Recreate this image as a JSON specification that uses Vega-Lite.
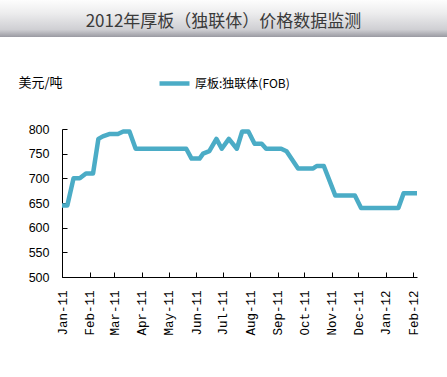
{
  "$schema": "https://vega.github.io/schema/vega-lite/v6.json",
  "padding": 0,
  "background": "white",
  "spacing": 29,
  "resolve": {"legend": {"color": "independent"}},
  "config": {"view": {"stroke": null}},
  "vconcat": [
    {
      "width": 385,
      "height": 37,
      "data": {"values": [{"title": "2012年厚板（独联体）价格数据监测"}]},
      "layer": [
        {
          "mark": {
            "type": "rect",
            "clip": false,
            "color": {
              "gradient": "linear", "x1": 0, "y1": 0, "x2": 0, "y2": 1,
              "stops": [
                {"offset": 0, "color": "#fdfdfd"},
                {"offset": 0.35, "color": "#ededee"},
                {"offset": 0.8, "color": "#cfcfd3"},
                {"offset": 1, "color": "#9a9aa2"}
              ]
            }
          },
          "encoding": {
            "x": {"value": -62}, "x2": {"value": "width"},
            "y": {"value": 0}, "y2": {"value": "height"}
          }
        },
        {
          "mark": {"type": "text", "font": "Noto Sans CJK SC", "fontSize": 17, "color": "#3a3a3a", "baseline": "middle", "align": "center", "dy": 3, "dx": -31},
          "encoding": {"text": {"field": "title"}}
        }
      ]
    },
    {
      "width": 355,
      "height": 148,
      "data": {"values": [
        {"date": "2011/01/01", "price": 645},
        {"date": "2011/01/07", "price": 645},
        {"date": "2011/01/14", "price": 700},
        {"date": "2011/01/21", "price": 700},
        {"date": "2011/01/28", "price": 710},
        {"date": "2011/02/05", "price": 710},
        {"date": "2011/02/11", "price": 780},
        {"date": "2011/02/16", "price": 785},
        {"date": "2011/02/24", "price": 790},
        {"date": "2011/03/05", "price": 790},
        {"date": "2011/03/11", "price": 795},
        {"date": "2011/03/18", "price": 795},
        {"date": "2011/03/25", "price": 760},
        {"date": "2011/05/21", "price": 760},
        {"date": "2011/05/27", "price": 740},
        {"date": "2011/06/05", "price": 740},
        {"date": "2011/06/09", "price": 750},
        {"date": "2011/06/16", "price": 755},
        {"date": "2011/06/24", "price": 780},
        {"date": "2011/06/30", "price": 760},
        {"date": "2011/07/08", "price": 780},
        {"date": "2011/07/17", "price": 760},
        {"date": "2011/07/23", "price": 795},
        {"date": "2011/07/30", "price": 795},
        {"date": "2011/08/06", "price": 770},
        {"date": "2011/08/14", "price": 770},
        {"date": "2011/08/19", "price": 760},
        {"date": "2011/09/05", "price": 760},
        {"date": "2011/09/11", "price": 755},
        {"date": "2011/09/24", "price": 720},
        {"date": "2011/10/11", "price": 720},
        {"date": "2011/10/15", "price": 725},
        {"date": "2011/10/23", "price": 725},
        {"date": "2011/11/05", "price": 665},
        {"date": "2011/11/27", "price": 665},
        {"date": "2011/12/04", "price": 640},
        {"date": "2012/01/15", "price": 640},
        {"date": "2012/01/21", "price": 670},
        {"date": "2012/02/05", "price": 670}
      ]},
      "mark": {"type": "line", "strokeWidth": 4.5, "strokeJoin": "round"},
      "encoding": {
        "x": {
          "field": "date", "type": "temporal",
          "scale": {"nice": false},
          "axis": {
            "title": null,
            "tickCount": {"interval": "month", "step": 1},
            "format": "%b-%y",
            "labelAngle": -90,
            "labelFont": "Liberation Mono",
            "labelFontSize": 12.5,
            "labelColor": "black",
            "labelPadding": 18,
            "labelOverlap": false,
            "tickSize": -5,
            "tickColor": "black",
            "domainColor": "black",
            "grid": false
          }
        },
        "y": {
          "field": "price", "type": "quantitative",
          "scale": {"domain": [500, 800], "nice": false, "zero": false},
          "axis": {
            "values": [500, 550, 600, 650, 700, 750, 800],
            "title": "美元/吨",
            "titleAngle": 0,
            "titleX": -44,
            "titleY": -47,
            "titleAlign": "left",
            "titleBaseline": "middle",
            "titleFont": "Noto Sans CJK SC",
            "titleFontSize": 13,
            "titleFontWeight": "normal",
            "titleColor": "black",
            "labelFont": "Liberation Sans",
            "labelFontSize": 12.5,
            "labelColor": "black",
            "labelPadding": 18,
            "tickSize": -5,
            "tickColor": "black",
            "domainColor": "black",
            "grid": false,
            "minExtent": 62
          }
        },
        "color": {
          "datum": "厚板:独联体(FOB)",
          "scale": {"range": ["#4BACC6"]},
          "legend": {
            "orient": "none",
            "legendX": 95,
            "legendY": -63,
            "title": null,
            "padding": 0,
            "symbolType": "stroke",
            "symbolSize": 900,
            "symbolStrokeWidth": 4.5,
            "labelFont": "Noto Sans CJK SC",
            "labelFontSize": 12,
            "labelColor": "black",
            "labelOffset": 3
          }
        }
      }
    }
  ]
}
